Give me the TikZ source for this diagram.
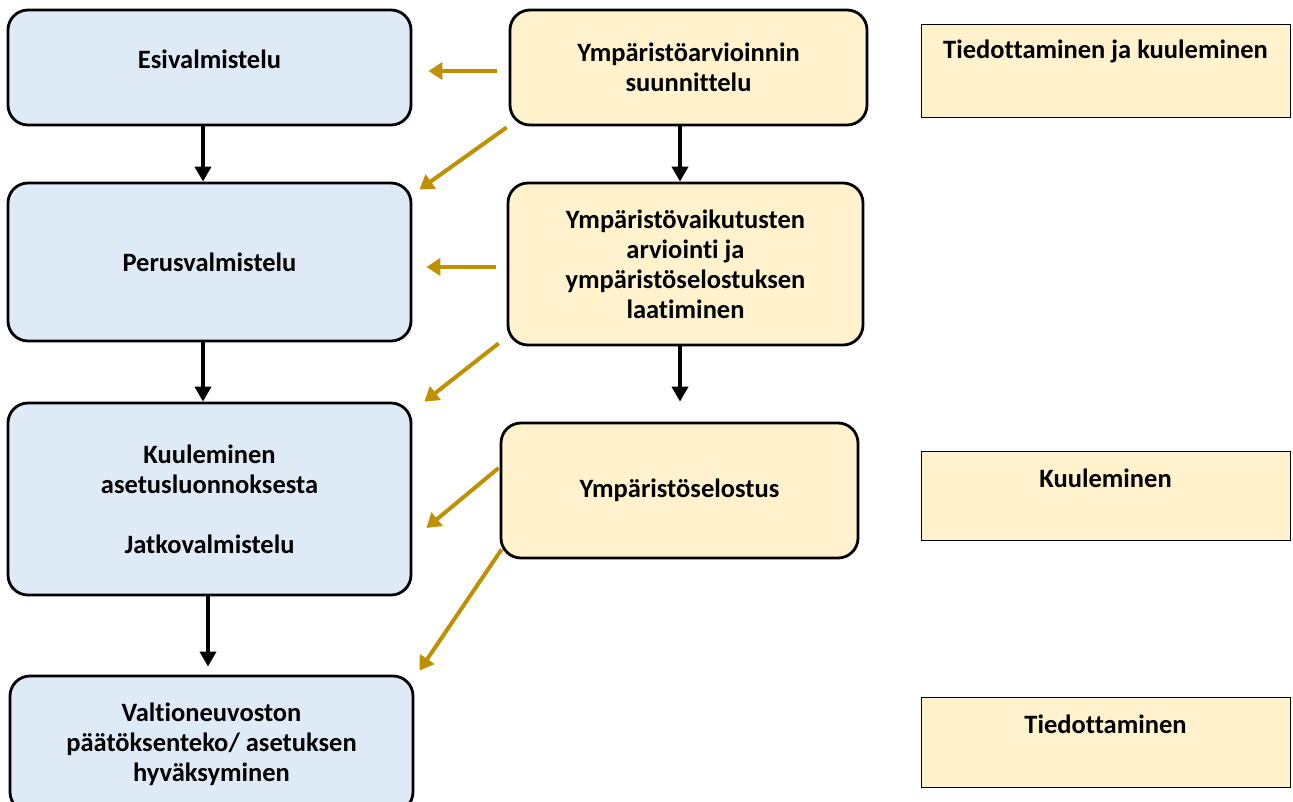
\documentclass[tikz,border=0pt]{standalone}
\usepackage{fontspec}
\setmainfont{Carlito}[Ligatures=NoCommon]
\usetikzlibrary{arrows.meta,calc}
\definecolor{boxblue}{HTML}{DEEBF7}
\definecolor{boxyellow}{HTML}{FFF2CC}
\definecolor{gold}{HTML}{BF9000}
\begin{document}
\begin{tikzpicture}[x=1pt,y=-1pt,
  every node/.style={font=\fontsize{26.5}{30}\selectfont\bfseries, align=center, inner sep=0pt},
  bluebox/.style={draw=black, line width=2.8pt, fill=boxblue, rounded corners=20pt},
  yellowbox/.style={draw=black, line width=2.8pt, fill=boxyellow, rounded corners=20pt},
  sidebox/.style={draw=black, line width=1pt, fill=boxyellow},
  blackarrow/.style={line width=4pt, draw=black, -{Triangle[length=15pt,width=16pt]}},
  goldarrow/.style={line width=4pt, draw=gold, -{Triangle[length=14pt,width=17pt]}}]
\useasboundingbox (0,0) rectangle (1293,801);
\clip (0,0) rectangle (1293,801);
% left column
\node[bluebox, minimum width=403pt, minimum height=115pt] (es) at (209.5,67.5) {\raisebox{17pt}{Esivalmistelu}};
\node[bluebox, minimum width=403pt, minimum height=158pt] (pe) at (209.5,262) {Perusvalmistelu};
\node[bluebox, minimum width=403pt, minimum height=192pt] (kv) at (209.5,499) {Kuuleminen\\asetusluonnoksesta\\[30pt]Jatkovalmistelu};
\node[bluebox, minimum width=403pt, minimum height=136pt] (va) at (211.5,744) {Valtioneuvoston\\päätöksenteko/ asetuksen\\hyväksyminen};
% middle column
\node[yellowbox, minimum width=357pt, minimum height=115pt] (ya) at (688.5,67.5) {Ympäristöarvioinnin\\suunnittelu};
\node[yellowbox, minimum width=355pt, minimum height=162pt] (yv) at (685.5,264) {Ympäristövaikutusten\\arviointi ja\\ympäristöselostuksen\\laatiminen};
\node[yellowbox, minimum width=357pt, minimum height=135pt] (ys) at (679.5,490.5) {Ympäristöselostus};
% right column
\node[sidebox, minimum width=369pt, minimum height=93pt] (r1) at (1105.5,70.5) {};
\node (r1t) at (1105.5,51) {Tiedottaminen ja kuuleminen};
\node[sidebox, minimum width=369pt, minimum height=89pt] (r2) at (1105.5,495.5) {};
\node (r2t) at (1105.5,478) {Kuuleminen};
\node[sidebox, minimum width=369pt, minimum height=90pt] (r3) at (1105.5,742) {};
\node (r3t) at (1105.5,724) {Tiedottaminen};
% black arrows
\draw[blackarrow] ($(es.south)+(-6.5,0)$) -- ($(pe.north)+(-6.5,0)$);
\draw[blackarrow] ($(pe.south)+(-6.5,0)$) -- ($(kv.north)+(-6.5,0)$);
\draw[blackarrow] ($(kv.south)+(-1.5,0)$) -- ($(va.north)+(-3.5,-8)$);
\draw[blackarrow] ($(ya.south)+(-8.5,0)$) -- ($(yv.north)+(-5.5,0)$);
\draw[blackarrow] ($(yv.south)+(-5.5,0)$) -- ($(ys.north)+(0.5,-20)$);
% gold arrows
\draw[goldarrow] ($(ya.west)+(-12,3.5)$) -- ($(es.east)+(16,3.5)$);
\draw[goldarrow] ($(ya.south west)+(-2,1)$) -- ($(pe.north east)+(7,8)$);
\draw[goldarrow] ($(yv.west)+(-11,3)$) -- ($(pe.east)+(14,5)$);
\draw[goldarrow] ($(yv.south west)+(-8,-3)$) -- ($(kv.north east)+(12,0)$);
\draw[goldarrow] ($(ys.west)+(-1,-22.5)$) -- ($(kv.east)+(14,29)$);
\draw[goldarrow] ($(ys.south west)+(2,-10)$) -- ($(va.north east)+(5,-4)$);
\end{tikzpicture}
\end{document}
